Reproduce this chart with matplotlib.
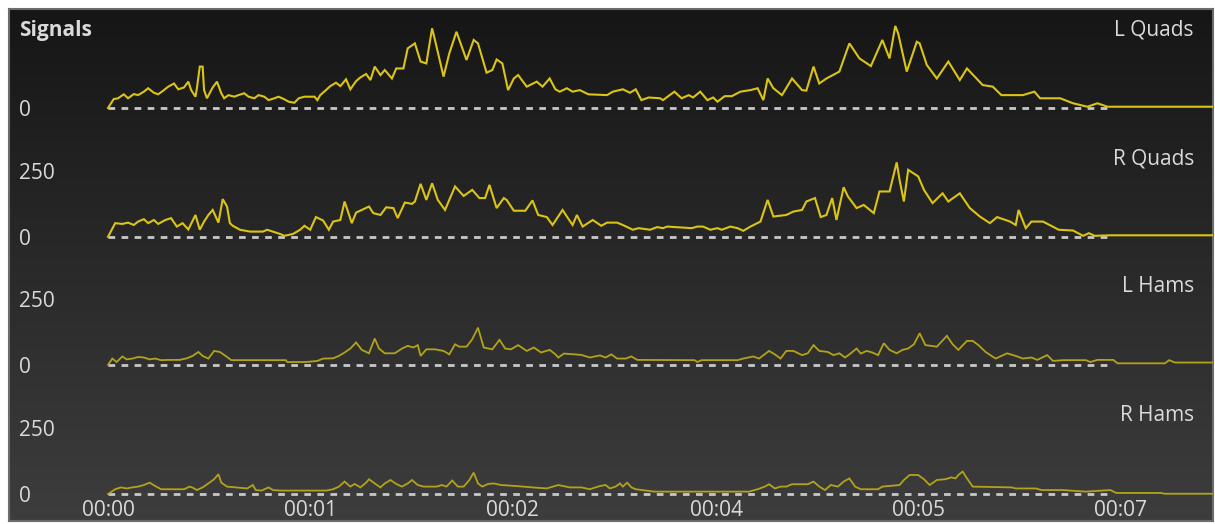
import numpy as np
import matplotlib
matplotlib.use('Agg')
import matplotlib.pyplot as plt
from matplotlib import transforms
from matplotlib.colors import LinearSegmentedColormap

plt.rcParams['font.family'] = ['Open Sans', 'DejaVu Sans']

# ---- data (time in seconds, signal amplitude) ----
lq_t = [0.00, 0.04, 0.07, 0.11, 0.14, 0.18, 0.21, 0.25, 0.28, 0.32,
        0.35, 0.39, 0.42, 0.46, 0.49, 0.53, 0.56, 0.58, 0.61, 0.62,
        0.64, 0.66, 0.67, 0.69, 0.73, 0.76, 0.79, 0.81, 0.84, 0.88,
        0.91, 0.95, 0.98, 1.02, 1.05, 1.09, 1.12, 1.16, 1.19, 1.23,
        1.26, 1.30, 1.33, 1.37, 1.40, 1.44, 1.46, 1.48, 1.52, 1.55,
        1.59, 1.62, 1.66, 1.69, 1.73, 1.76, 1.80, 1.83, 1.86, 1.90,
        1.93, 1.98, 2.01, 2.06, 2.09, 2.14, 2.18, 2.22, 2.26, 2.28,
        2.34, 2.38, 2.43, 2.50, 2.55, 2.58, 2.64, 2.68, 2.71, 2.75,
        2.79, 2.83, 2.86, 2.92, 2.99, 3.03, 3.08, 3.12, 3.15, 3.20,
        3.24, 3.29, 3.35, 3.48, 3.52, 3.59, 3.64, 3.68, 3.72, 3.77,
        3.85, 3.87, 3.95, 4.00, 4.05, 4.08, 4.13, 4.18, 4.22, 4.25,
        4.30, 4.35, 4.41, 4.48, 4.53, 4.57, 4.60, 4.64, 4.70, 4.77,
        4.84, 4.87, 4.92, 4.96, 5.01, 5.10, 5.17, 5.24, 5.32, 5.40,
        5.45, 5.49, 5.51, 5.57, 5.64, 5.66, 5.71, 5.78, 5.86, 5.94,
        5.99, 6.10, 6.17, 6.23, 6.38, 6.46, 6.50, 6.64, 6.73, 6.83,
        6.90, 6.97, 7.01, 7.72]
lq_v = [0, 34, 37, 52, 37, 53, 49, 62, 75, 58,
        52, 68, 81, 93, 71, 78, 100, 68, 43, 75,
        157, 157, 68, 37, 78, 100, 56, 37, 49, 43,
        49, 56, 43, 37, 49, 43, 30, 37, 43, 33,
        24, 20, 37, 43, 43, 43, 30, 49, 68, 83,
        96, 83, 109, 71, 102, 116, 129, 106, 157, 125,
        144, 112, 150, 150, 226, 245, 176, 169, 302, 258,
        119, 207, 289, 182, 258, 245, 134, 144, 184, 169,
        68, 112, 125, 81, 100, 81, 112, 71, 62, 75,
        62, 68, 52, 49, 62, 71, 58, 71, 30, 40,
        37, 30, 62, 37, 49, 40, 62, 30, 40, 24,
        45, 45, 62, 68, 75, 30, 112, 75, 49, 112,
        68, 66, 157, 93, 112, 138, 245, 188, 159, 258,
        188, 311, 283, 138, 251, 245, 163, 112, 176, 106,
        150, 87, 81, 49, 49, 62, 37, 37, 18, 5,
        18, 5, 5, 5]

rq_t = [0.00, 0.05, 0.10, 0.14, 0.18, 0.21, 0.25, 0.28, 0.32, 0.35,
        0.40, 0.44, 0.48, 0.52, 0.56, 0.61, 0.64, 0.67, 0.70, 0.73,
        0.77, 0.80, 0.83, 0.85, 0.87, 0.92, 0.99, 1.08, 1.11, 1.15,
        1.20, 1.23, 1.29, 1.34, 1.37, 1.41, 1.45, 1.50, 1.54, 1.57,
        1.62, 1.65, 1.70, 1.73, 1.77, 1.82, 1.85, 1.90, 1.94, 1.99,
        2.02, 2.07, 2.12, 2.14, 2.18, 2.22, 2.26, 2.30, 2.35, 2.42,
        2.48, 2.54, 2.59, 2.63, 2.66, 2.71, 2.76, 2.78, 2.83, 2.91,
        2.96, 3.00, 3.06, 3.10, 3.17, 3.20, 3.24, 3.27, 3.31, 3.38,
        3.44, 3.48, 3.55, 3.59, 3.66, 3.70, 3.78, 3.83, 3.87, 3.90,
        4.07, 4.11, 4.15, 4.20, 4.25, 4.28, 4.34, 4.39, 4.43, 4.48,
        4.55, 4.60, 4.64, 4.73, 4.78, 4.84, 4.87, 4.93, 4.97, 5.01,
        5.05, 5.08, 5.13, 5.16, 5.22, 5.27, 5.34, 5.38, 5.45, 5.50,
        5.52, 5.55, 5.58, 5.65, 5.69, 5.75, 5.82, 5.86, 5.94, 6.01,
        6.08, 6.15, 6.20, 6.29, 6.33, 6.35, 6.40, 6.44, 6.52, 6.63,
        6.73, 6.80, 6.84, 6.88, 6.99, 7.72]
rq_v = [0, 52, 49, 54, 45, 58, 67, 52, 64, 49,
        64, 71, 39, 52, 28, 83, 27, 58, 83, 102,
        54, 143, 115, 52, 42, 27, 20, 20, 27, 20,
        11, 4, 11, 27, 42, 27, 75, 62, 27, 58,
        64, 134, 52, 92, 102, 115, 90, 83, 112, 109,
        71, 130, 125, 134, 201, 140, 203, 140, 102, 191,
        155, 178, 147, 147, 197, 109, 147, 140, 99, 99,
        138, 83, 75, 45, 102, 77, 45, 83, 39, 64,
        42, 54, 54, 45, 27, 33, 27, 37, 33, 39,
        33, 39, 39, 27, 33, 27, 39, 33, 23, 39,
        58, 140, 77, 83, 96, 102, 134, 147, 75, 83,
        147, 64, 188, 153, 109, 121, 90, 172, 172, 282,
        216, 134, 254, 229, 178, 128, 165, 134, 165, 109,
        77, 52, 75, 58, 45, 102, 33, 58, 58, 27,
        24, 4, 14, 4, 6, 6]

lh_t = [0.00, 0.03, 0.06, 0.10, 0.13, 0.17, 0.21, 0.25, 0.29, 0.33,
        0.37, 0.42, 0.50, 0.55, 0.59, 0.63, 0.66, 0.70, 0.74, 0.78,
        0.82, 0.86, 1.24, 1.25, 1.38, 1.46, 1.50, 1.57, 1.61, 1.65,
        1.69, 1.73, 1.77, 1.82, 1.86, 1.89, 1.93, 2.00, 2.05, 2.09,
        2.13, 2.16, 2.18, 2.22, 2.28, 2.34, 2.38, 2.42, 2.45, 2.50,
        2.54, 2.58, 2.62, 2.68, 2.73, 2.77, 2.81, 2.86, 2.92, 2.97,
        3.02, 3.08, 3.12, 3.14, 3.18, 3.25, 3.30, 3.36, 3.43, 3.47,
        3.51, 3.55, 3.61, 3.65, 3.69, 4.09, 4.11, 4.14, 4.39, 4.43,
        4.50, 4.54, 4.61, 4.65, 4.69, 4.73, 4.78, 4.84, 4.88, 4.92,
        4.96, 5.02, 5.06, 5.10, 5.14, 5.18, 5.22, 5.25, 5.29, 5.33,
        5.37, 5.41, 5.45, 5.50, 5.54, 5.58, 5.62, 5.66, 5.70, 5.78,
        5.85, 5.89, 5.93, 5.99, 6.03, 6.07, 6.12, 6.19, 6.27, 6.33,
        6.38, 6.44, 6.48, 6.55, 6.59, 6.66, 6.82, 6.85, 6.90, 7.01,
        7.04, 7.37, 7.40, 7.44, 7.72]
lh_v = [0, 24, 11, 32, 21, 24, 30, 28, 21, 24,
        18, 19, 19, 25, 34, 49, 34, 24, 53, 49,
        34, 18, 18, 11, 11, 15, 24, 25, 34, 47,
        62, 85, 57, 44, 100, 62, 44, 44, 62, 72,
        66, 75, 34, 59, 59, 53, 40, 78, 69, 69,
        97, 141, 66, 59, 95, 62, 59, 75, 53, 66,
        47, 57, 40, 28, 43, 40, 38, 28, 36, 28,
        40, 24, 24, 32, 19, 18, 11, 18, 18, 24,
        32, 24, 53, 40, 24, 53, 53, 37, 44, 75,
        53, 49, 37, 44, 28, 44, 62, 43, 53, 47,
        37, 82, 57, 44, 57, 62, 78, 120, 75, 69,
        110, 78, 57, 91, 91, 75, 49, 24, 44, 34,
        24, 28, 19, 37, 15, 18, 18, 11, 19, 19,
        6, 6, 18, 9, 9]

rh_t = [0.00, 0.05, 0.09, 0.13, 0.17, 0.21, 0.25, 0.29, 0.33, 0.37,
        0.53, 0.57, 0.59, 0.62, 0.66, 0.70, 0.74, 0.77, 0.79, 0.83,
        0.97, 1.01, 1.03, 1.07, 1.12, 1.15, 1.20, 1.52, 1.57, 1.61,
        1.65, 1.69, 1.72, 1.76, 1.80, 1.82, 1.86, 1.90, 1.93, 1.97,
        2.01, 2.05, 2.09, 2.12, 2.16, 2.20, 2.29, 2.33, 2.36, 2.40,
        2.44, 2.48, 2.52, 2.55, 2.58, 2.61, 2.65, 2.69, 2.74, 2.85,
        2.96, 3.06, 3.14, 3.22, 3.30, 3.36, 3.40, 3.43, 3.47, 3.50,
        3.54, 3.57, 3.59, 3.62, 3.65, 3.68, 3.81, 4.47, 4.53, 4.58,
        4.61, 4.65, 4.69, 4.73, 4.77, 4.88, 4.92, 4.96, 5.00, 5.04,
        5.09, 5.13, 5.17, 5.21, 5.25, 5.37, 5.40, 5.52, 5.55, 5.59,
        5.65, 5.69, 5.73, 5.78, 5.84, 5.88, 5.91, 5.93, 5.96, 5.99,
        6.03, 6.30, 6.33, 6.47, 6.51, 6.66, 6.71, 6.82, 6.99, 7.03,
        7.34, 7.37, 7.72]
rh_v = [0, 18, 25, 21, 25, 28, 34, 43, 30, 18,
        18, 28, 24, 15, 25, 40, 56, 75, 43, 28,
        21, 34, 15, 13, 25, 15, 13, 13, 18, 28,
        47, 28, 38, 25, 43, 56, 40, 25, 40, 53,
        38, 28, 40, 53, 34, 28, 28, 34, 28, 51,
        28, 28, 53, 81, 40, 28, 38, 40, 34, 30,
        25, 21, 34, 25, 25, 18, 25, 30, 34, 21,
        28, 40, 28, 43, 25, 18, 9, 9, 18, 28,
        37, 21, 28, 28, 37, 37, 47, 28, 15, 34,
        28, 47, 59, 28, 18, 18, 28, 34, 53, 72,
        72, 56, 34, 53, 56, 63, 59, 72, 85, 59,
        28, 25, 21, 21, 15, 15, 13, 9, 15, 4,
        4, 1, 1]

names = ['L Quads', 'R Quads', 'L Hams', 'R Hams']
times = [lq_t, rq_t, lh_t, rh_t]
values = [lq_v, rq_v, lh_v, rh_v]
tick_times = [0, 1.41, 2.82, 4.24, 5.65, 7.06]
tick_labels = ['00:00', '00:01', '00:02', '00:04', '00:05', '00:07']

# ---- layout ----
W, H = 1215, 524
PX_PER_S = 143.4        # horizontal pixels per second
UNIT_PER_PX = 3.788     # signal units per vertical pixel
offsets = [1462, 974, 489, 0]   # vertical stacking of the four panels
line_colors = ['#dcc414', '#dcc414', '#b3a31a', '#b3a31a']
line_widths = [1.5, 1.5, 1.3, 1.3]

fig = plt.figure(figsize=(W / 100, H / 100), dpi=100, facecolor='white')
ax = fig.add_axes([9 / W, 3 / H, 1204 / W, 512 / H])

# dark gradient background
cmap = LinearSegmentedColormap.from_list('bg', ['#161616', '#3d3d3d'])
ax.imshow(np.linspace(0, 1, 256)[:, None], extent=[0, 1, 0, 1], transform=ax.transAxes,
          cmap=cmap, aspect='auto', zorder=0)

blend_y = transforms.blended_transform_factory(ax.transAxes, ax.transData)
blend_x = transforms.blended_transform_factory(ax.transData, ax.transAxes)
txt = dict(color='#dadada', fontsize=15)
nudge = 2.5 * UNIT_PER_PX   # digits sit a little low relative to their box centre

for name, t, v, off, c, lw in zip(names, times, values, offsets, line_colors, line_widths):
    ax.plot([0, 7.0], [off, off], color='#c8c8c8', lw=2, linestyle=(0, (2.4, 2.3)), zorder=2)
    ax.plot(t, np.array(v) + off, color=c, lw=lw, zorder=3, solid_joinstyle='miter')
    ax.text(10 / 1204, off - nudge, '0', ha='left', va='center', transform=blend_y, **txt)
    if off != offsets[0]:
        ax.text(10 / 1204, off + 250 - nudge, '250', ha='left', va='center',
                transform=blend_y, **txt)
    ax.text(1185 / 1204, off + 296, name, ha='right', va='center', transform=blend_y, **txt)

ax.text(10 / 1204, offsets[0] + 293, 'Signals', ha='left', va='center', fontweight='bold',
        transform=blend_y, **txt)

for tt, lab in zip(tick_times, tick_labels):
    ax.text(tt, 11 / 512, lab, ha='center', va='center', transform=blend_x, **txt)

ax.set_xlim((9 - 108) / PX_PER_S, (1213 - 108) / PX_PER_S)
ax.set_ylim(-27 * UNIT_PER_PX, 485 * UNIT_PER_PX)
ax.set_xticks([])
ax.set_yticks([])
for s in ax.spines.values():
    s.set_color('#6c6c6c')
    s.set_linewidth(1.5)

fig.savefig('out.png', dpi=100, facecolor='white')
